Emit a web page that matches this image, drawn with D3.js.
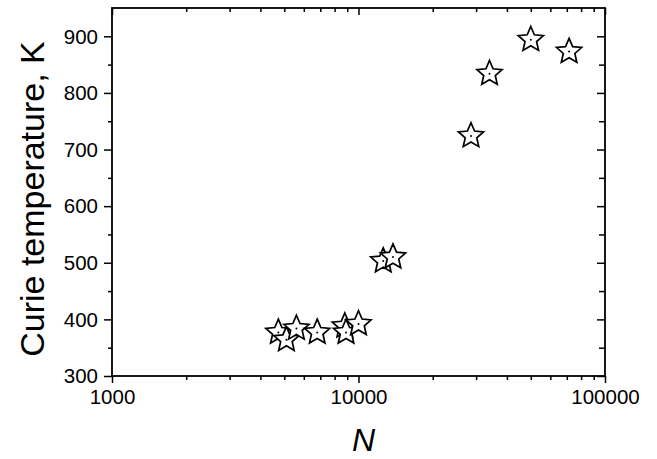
<!DOCTYPE html>
<html>
<head>
<meta charset="utf-8">
<script src="https://cdn.jsdelivr.net/npm/d3@7"></script>
<style>
  html, body { margin: 0; padding: 0; background: #fff; }
  svg text { font-family: "Liberation Sans", Arial, sans-serif; fill: #000; }
</style>
</head>
<body>
<div id="chart"></div>
<script>
// chain length N and Curie temperature (K)
const sizeN = [4730, 5100, 5600, 6800, 8800, 8900, 10000, 12600, 13800, 28600, 34000, 50000, 71500];
const curieT = [377, 364, 384, 377, 388, 377, 392, 503, 510, 724, 834, 894, 873];

const xMajor = [1000, 10000, 100000];
const yMajor = [300, 400, 500, 600, 700, 800, 900];

const width = 657, height = 459;
const margin = {left: 112, right: 52, top: 8, bottom: 83};

const svg = d3.select('#chart').append('svg')
    .attr('width', width)
    .attr('height', height);

const x = d3.scaleLog()
    .domain([1000, 100000])
    .range([margin.left, width - margin.right]);

const y = d3.scaleLinear()
    .domain([300, 950])
    .range([height - margin.bottom, margin.top]);

// minor ticks: 2..9 of every decade, and every 50 K
const xMinor = [];
[1000, 10000].forEach(dec => { for (let k = 2; k <= 9; k++) xMinor.push(dec * k); });
const yMinor = d3.range(350, 950, 100);

const plotB = height - margin.bottom, plotR = width - margin.right;

function styleAxis(g) {
    g.select('.domain').remove();
    g.selectAll('line').attr('stroke', '#000').attr('stroke-width', 1.5);
}

// bottom
svg.append('g').attr('transform', `translate(0,${plotB})`)
    .call(d3.axisBottom(x).tickValues(xMajor).tickSize(7).tickFormat(d3.format('d')).tickPadding(6))
    .call(styleAxis)
    .call(g => g.selectAll('text').attr('font-size', 20.5).attr('dy', '0.71em'));
svg.append('g').attr('transform', `translate(0,${plotB})`)
    .call(d3.axisBottom(x).tickValues(xMinor).tickSize(4).tickFormat(''))
    .call(styleAxis);

// top (inward)
svg.append('g').attr('transform', `translate(0,${margin.top})`)
    .call(d3.axisTop(x).tickValues(xMajor).tickSize(-7).tickFormat(''))
    .call(styleAxis);
svg.append('g').attr('transform', `translate(0,${margin.top})`)
    .call(d3.axisTop(x).tickValues(xMinor).tickSize(-4).tickFormat(''))
    .call(styleAxis);

// left
svg.append('g').attr('transform', `translate(${margin.left},0)`)
    .call(d3.axisLeft(y).tickValues(yMajor).tickSize(8).tickPadding(6))
    .call(styleAxis)
    .call(g => g.selectAll('text').attr('font-size', 20.5).attr('dy', '0.33em'));
svg.append('g').attr('transform', `translate(${margin.left},0)`)
    .call(d3.axisLeft(y).tickValues(yMinor).tickSize(4).tickFormat(''))
    .call(styleAxis);

// right (inward)
svg.append('g').attr('transform', `translate(${plotR},0)`)
    .call(d3.axisRight(y).tickValues(yMajor).tickSize(-8).tickFormat(''))
    .call(styleAxis);
svg.append('g').attr('transform', `translate(${plotR},0)`)
    .call(d3.axisRight(y).tickValues(yMinor).tickSize(-6).tickFormat(''))
    .call(styleAxis);

// frame
svg.append('rect')
    .attr('x', margin.left).attr('y', margin.top)
    .attr('width', plotR - margin.left)
    .attr('height', plotB - margin.top)
    .attr('fill', 'none')
    .attr('stroke', '#000')
    .attr('stroke-width', 1.8);

// open star symbol
function starPath(R, ratio) {
    const r = R * ratio;
    const pts = d3.range(10).map(i => {
        const a = -Math.PI / 2 + i * Math.PI / 5;
        const rr = i % 2 === 0 ? R : r;
        return [rr * Math.cos(a), rr * Math.sin(a)];
    });
    return d3.line()(pts) + 'Z';
}
const star = starPath(13.2, 0.46);

const points = sizeN.map((n, i) => ({n: n, t: curieT[i]}));

const pts = svg.append('g').attr('class', 'points')
    .selectAll('g')
    .data(points)
    .enter().append('g')
    .attr('transform', d => `translate(${x(d.n)},${y(d.t)})`);
pts.append('path')
    .attr('d', star)
    .attr('fill', '#fff')
    .attr('stroke', '#000')
    .attr('stroke-width', 1.7)
    .attr('stroke-linejoin', 'miter');
pts.append('circle')
    .attr('r', 1)
    .attr('fill', '#000');

// axis titles
svg.append('text')
    .attr('x', (margin.left + plotR) / 2 + 5)
    .attr('y', 451)
    .attr('text-anchor', 'middle')
    .attr('font-size', 32)
    .attr('font-style', 'italic')
    .text('N');

svg.append('text')
    .attr('transform', `translate(44,${(margin.top + plotB) / 2 + 7}) rotate(-90)`)
    .attr('text-anchor', 'middle')
    .attr('font-size', 34)
    .text('Curie temperature, K');
</script>
</body>
</html>
